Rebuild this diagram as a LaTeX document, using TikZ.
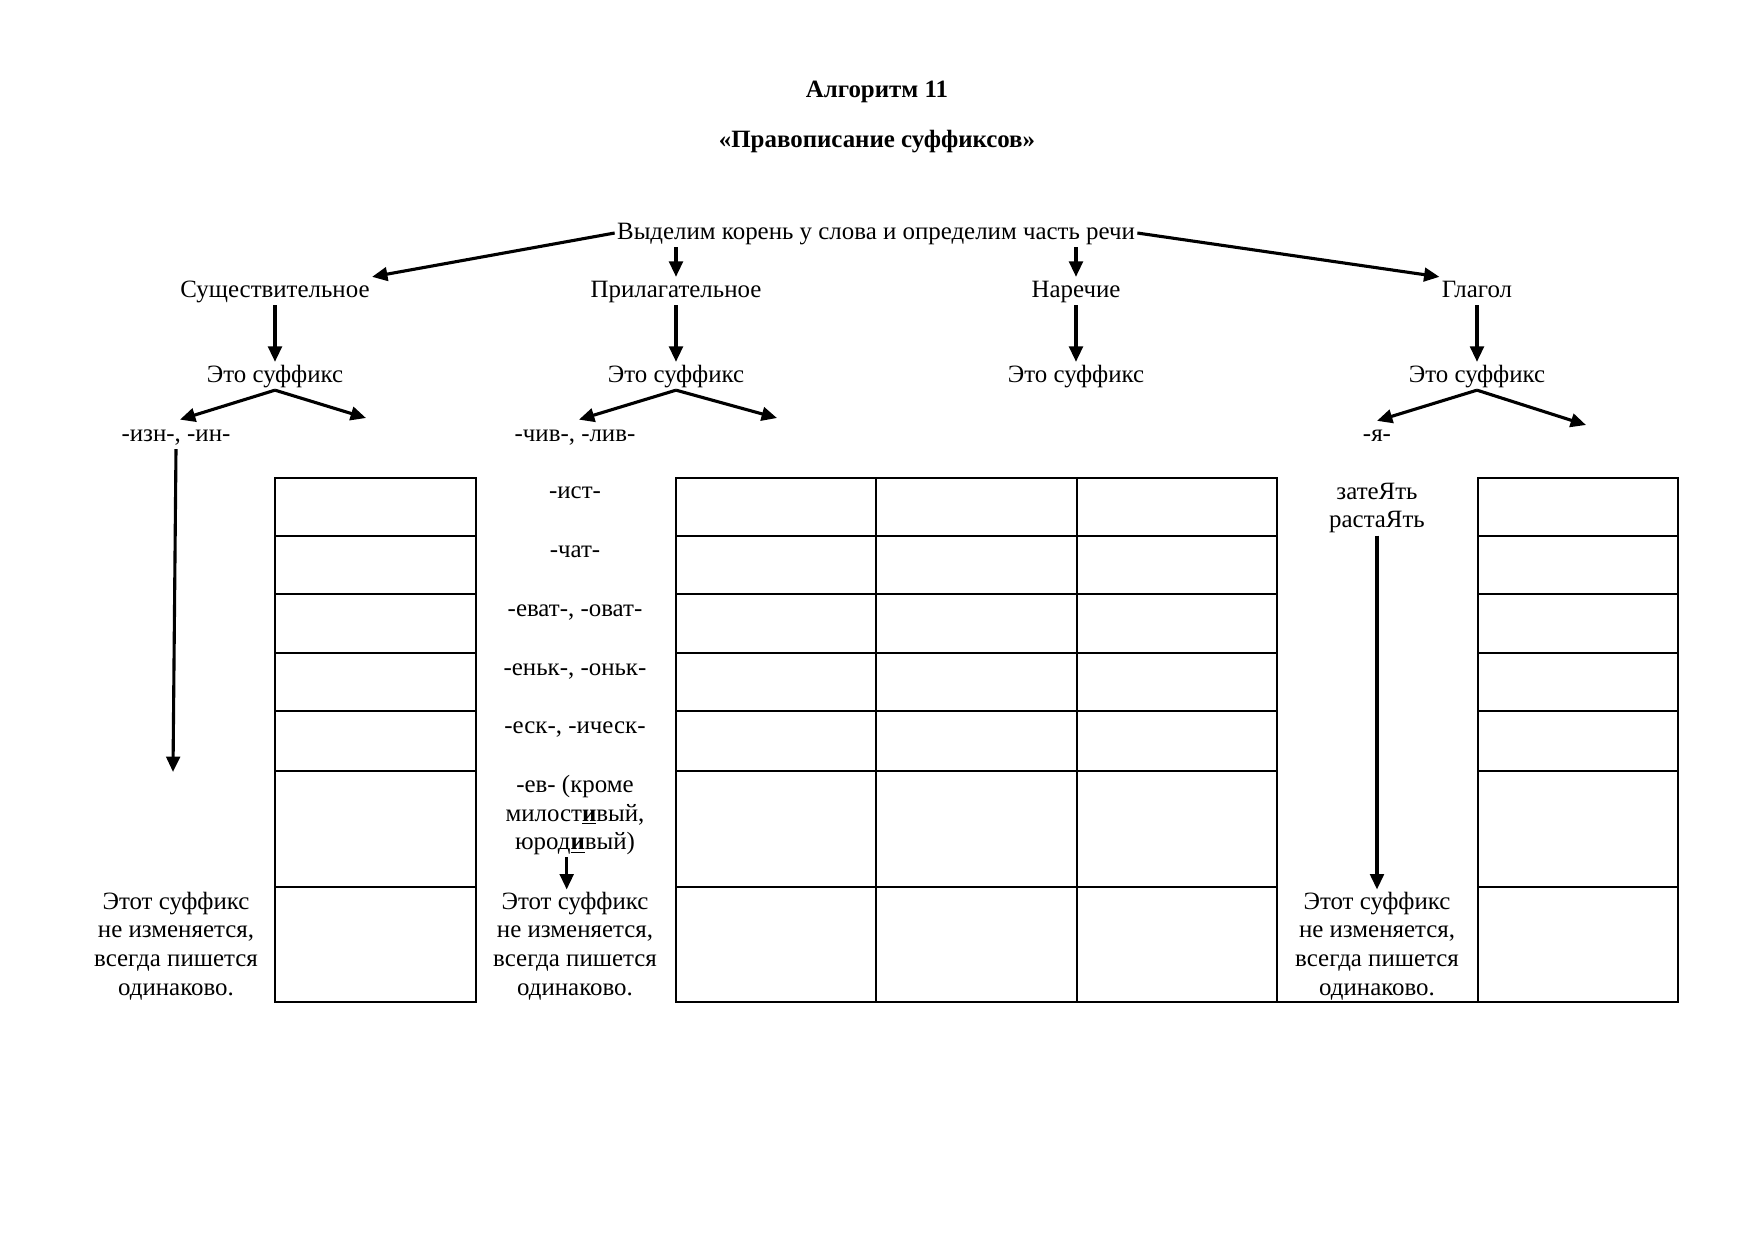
\documentclass[tikz,border=0pt]{standalone}
\usepackage{fontspec}
\setmainfont{Liberation Serif}
\usetikzlibrary{arrows.meta, positioning, calc}

\begin{document}
\begin{tikzpicture}[
    x=0.16933mm, y=-0.16933mm,
    para/.style={align=center, inner sep=1pt, font=\fontsize{12pt}{13.8pt}\selectfont},
    txt/.style={para, text height=1.9ex, text depth=0.55ex},
    ttl/.style={para, font=\fontsize{12pt}{13.8pt}\selectfont\bfseries},
    arrow/.style={-{Triangle[length=2.6mm, width=2.3mm]}, line width=1.5pt},
    grid/.style={line width=1.1pt, line cap=rect}
]
\useasboundingbox (0,0) rectangle (1754,1240);

\node[ttl] (title) at (877,92) {Алгоритм 11};
\node[ttl] (subtitle) at (877,142) {«Правописание суффиксов»};
\node[txt] (root) at (876,233) {Выделим корень у слова и определим часть речи};

\node[txt] (noun) at (275,291) {Существительное};
\node[txt] (adj) at (676,291) {Прилагательное};
\node[txt] (adv) at (1076,291) {Наречие};
\node[txt] (verb) at (1477,291) {Глагол};

\node[txt] (nounsuf) at (275,376) {Это суффикс};
\node[txt] (adjsuf) at (676,376) {Это суффикс};
\node[txt] (advsuf) at (1076,376) {Это суффикс};
\node[txt] (verbsuf) at (1477,376) {Это суффикс};

\node[txt] (izn) at (176,435) {-изн-, -ин-};
\node[txt] (chiv) at (575,435) {-чив-, -лив-};
\node[txt] (ya) at (1377,435) {-я-};

\node[txt] (ist) at (575,492) {-ист-};
\node[txt] (chat) at (575,551) {-чат-};
\node[txt] (evat) at (575,610) {-еват-, -оват-};
\node[txt] (enk) at (575,669) {-еньк-, -оньк-};
\node[txt] (esk) at (575,727) {-еск-, -ическ-};
\node[para] (ev) at (575,815) {-ев- (кроме\\милост{\bfseries\underline{и}}вый,\\юрод{\bfseries\underline{и}}вый)};
\node[para] (zateyat) at (1377,508) {затеЯть\\растаЯть};

\node[para] (same1) at (176,946) {Этот суффикс\\не изменяется,\\всегда пишется\\одинаково.};
\node[para] (same2) at (575,946) {Этот суффикс\\не изменяется,\\всегда пишется\\одинаково.};
\node[para] (same3) at (1377,946) {Этот суффикс\\не изменяется,\\всегда пишется\\одинаково.};

\coordinate (nounright) at (366,418);
\coordinate (adjright) at (777,418);
\coordinate (verbright) at (1586,425);
\coordinate (iznend) at (173,772);

% arrows
\draw[arrow] (root.west) -- (noun.north east);
\draw[arrow] (root.east) -- (verb.north west);
\draw[arrow] (root.south -| adj) -- (adj.north);
\draw[arrow] (root.south -| adv) -- (adv.north);
\draw[arrow] (noun) -- (nounsuf);
\draw[arrow] (adj) -- (adjsuf);
\draw[arrow] (adv) -- (advsuf);
\draw[arrow] (verb) -- (verbsuf);
\draw[arrow, shorten >=2pt] (nounsuf.south) -- (izn.north);
\draw[arrow] (nounsuf.south) -- (nounright);
\draw[arrow, shorten >=2pt] (adjsuf.south) -- (chiv.north);
\draw[arrow] (adjsuf.south) -- (adjright);
\draw[arrow] (verbsuf.south) -- (ya.north);
\draw[arrow] (verbsuf.south) -- (verbright);
\draw[arrow] (izn.south) -- (iznend);
\draw[arrow] ([xshift=-4pt]ev.south) -- ([xshift=-4pt]same2.north);
\draw[arrow] (zateyat.south) -- (same3.north);

% tables
\foreach \y in {478,536,594,653,711,771,887,1002} {
  \draw[grid] (275,\y) -- (476,\y);
  \draw[grid] (676,\y) -- (1277,\y);
  \draw[grid] (1478,\y) -- (1678,\y);
}
\foreach \x in {275,476,676,876,1077,1277,1478,1678}
  \draw[grid] (\x,478) -- (\x,1002);
\draw[grid] (1277,1002) -- (1478,1002);

\end{tikzpicture}
\end{document}
